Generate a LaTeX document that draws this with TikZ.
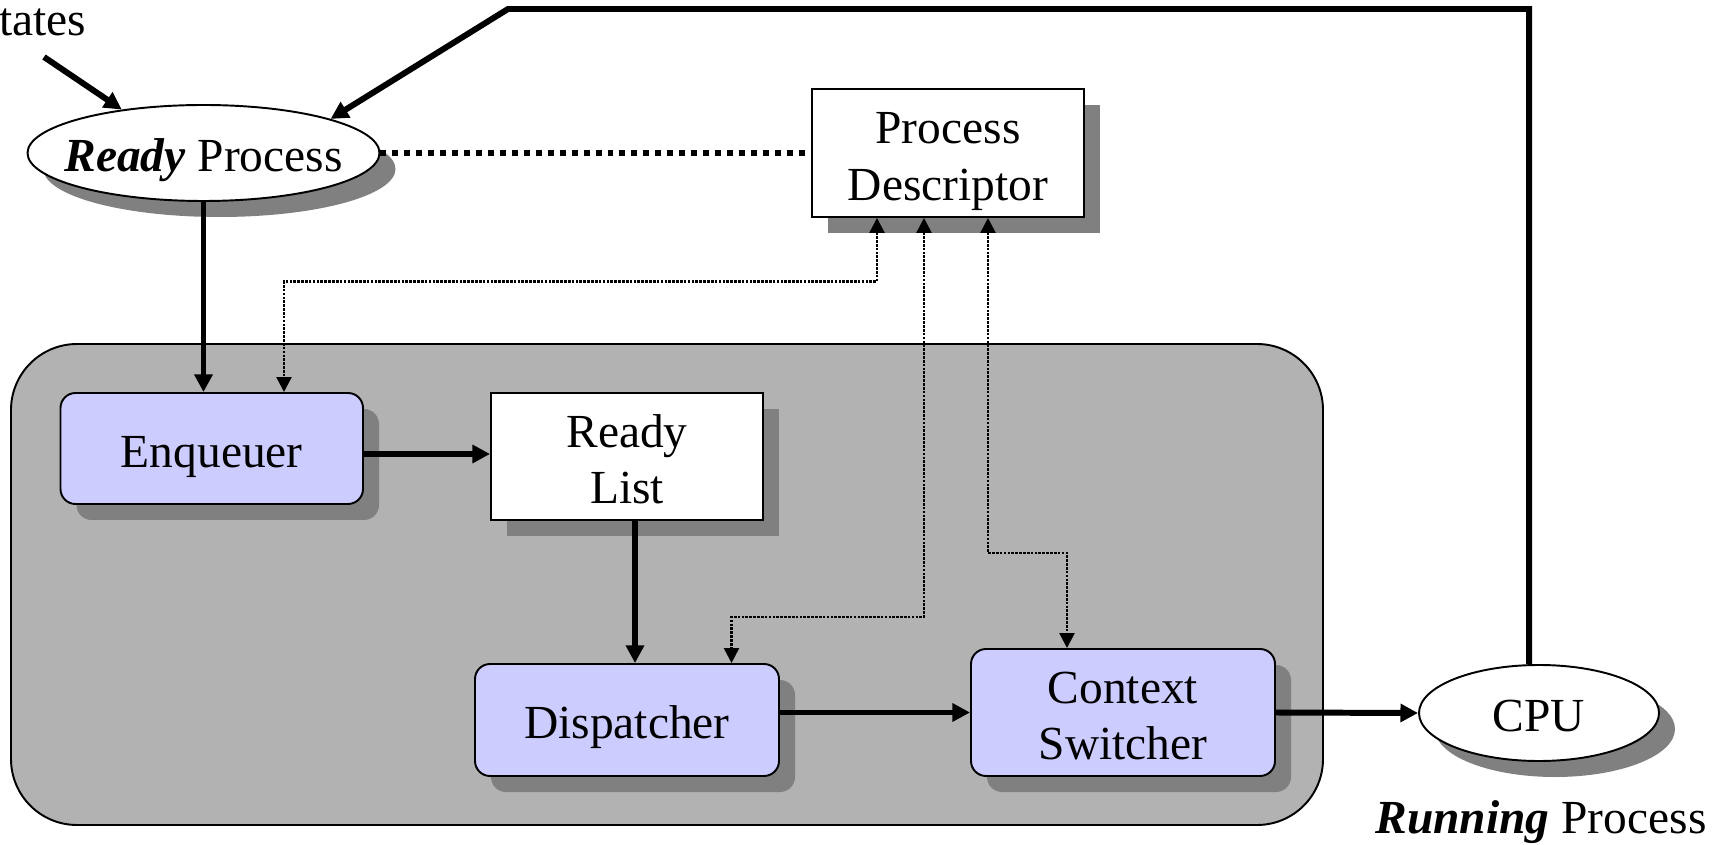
\documentclass[tikz,border=0pt]{standalone}
\usepackage{fontspec}
\setmainfont{Liberation Serif}
\usepackage{tikz}
\usetikzlibrary{arrows.meta,shapes.geometric,shadows}
\definecolor{unitblue}{HTML}{CCCCFF}
\definecolor{panelgray}{HTML}{B2B2B2}
\definecolor{shadegray}{HTML}{808080}

\begin{document}
\begin{tikzpicture}[
    font=\fontsize{27}{32.3}\selectfont,
    oneline/.style={text height=21.6pt, text depth=0pt},
    twoline/.style={text height=53.9pt, text depth=0pt},
    shade/.style={drop shadow={shadow xshift=.32cm, shadow yshift=-.32cm, fill=shadegray, opacity=1}},
    unit/.style={draw, line width=1.1pt, fill=unitblue, rounded corners=.3cm, align=center, inner sep=0pt, shade},
    store/.style={draw, line width=1.1pt, fill=white, align=center, inner sep=0pt, shade},
    proc/.style={draw, line width=1.1pt, fill=white, ellipse, inner sep=0pt, oneline, shade},
    flow/.style={line width=3.4pt, -{Triangle[length=10pt,width=10pt]}},
    link/.style={line width=1.4pt, dash pattern=on 1.5pt off .7pt, {Triangle[length=8.5pt,width=8.5pt]}-{Triangle[length=8.5pt,width=8.5pt]}}
  ]
  \useasboundingbox (0, 0) rectangle (34.5, -16.9);
  \node (KR) [draw, line width=1.1pt, fill=panelgray, rounded corners=1.32cm,
    minimum width=26.24cm, minimum height=9.62cm] at (13.34, -11.69) {};
  \node (RP) [proc, minimum width=7.04cm, minimum height=1.92cm] at (4.07, -3.06)
    {\makebox[0pt]{\textbf{\textit{Ready}} Process}};
  \node (PD) [store, twoline, minimum width=5.44cm, minimum height=2.56cm] at (18.96, -3.06) {Process\\Descriptor};
  \node (EQ) [unit, oneline, minimum width=6.05cm, minimum height=2.22cm] at (4.235, -8.97) {Enqueuer};
  \node (RL) [store, twoline, minimum width=5.44cm, minimum height=2.54cm] at (12.54, -9.13) {Ready\\List};
  \node (DS) [unit, oneline, minimum width=6.08cm, minimum height=2.24cm] at (12.54, -14.4) {Dispatcher};
  \node (CS) [unit, twoline, minimum width=6.08cm, minimum height=2.54cm] at (22.46, -14.25) {Context\\Switcher};
  \node (CPU) [proc, minimum width=4.8cm, minimum height=1.92cm] at (30.78, -14.26) {CPU};
  \node (RN) [anchor=base] at (30.82, -16.66) {\textbf{\textit{Running}} Process};
  \node (TS) [anchor=base west, inner sep=0pt] at (-0.02, -0.72) {tates};
  \coordinate (TA) at (0.88, -1.14);
  \draw [flow] (TA) -- (RP.152);
  \draw [flow] ([xshift=-.2cm]CPU.north) |- (10.16, -0.18) -- (RP.15);
  \draw [line width=2.9pt, dash pattern=on 3.4pt off 3.4pt] (RP.east) -- (PD.west);
  \draw [flow] (RP.south) -- (RP.south |- EQ.north);
  \draw [flow] ([yshift=-.11cm]EQ.east) -- ([yshift=-.11cm]EQ.east -| RL.west);
  \draw [flow] ([xshift=.16cm]RL.south) -- ([xshift=.16cm]RL.south |- DS.north);
  \draw [flow] (CS.west -| DS.east) -- (CS.west);
  \draw [flow] (CS.east) -- (CPU.west);
  \draw [link] ([xshift=-1.42cm]PD.south) -- ++(0, -1.27) -| ([xshift=1.445cm]EQ.north);
  \draw [link] ([xshift=-.48cm]PD.south) -- ++(0, -7.98) -| ([xshift=2.09cm]DS.north);
  \draw [link] ([xshift=.8cm]PD.south) -- ++(0, -6.70) -| ([xshift=-1.12cm]CS.north);
\end{tikzpicture}
\end{document}
